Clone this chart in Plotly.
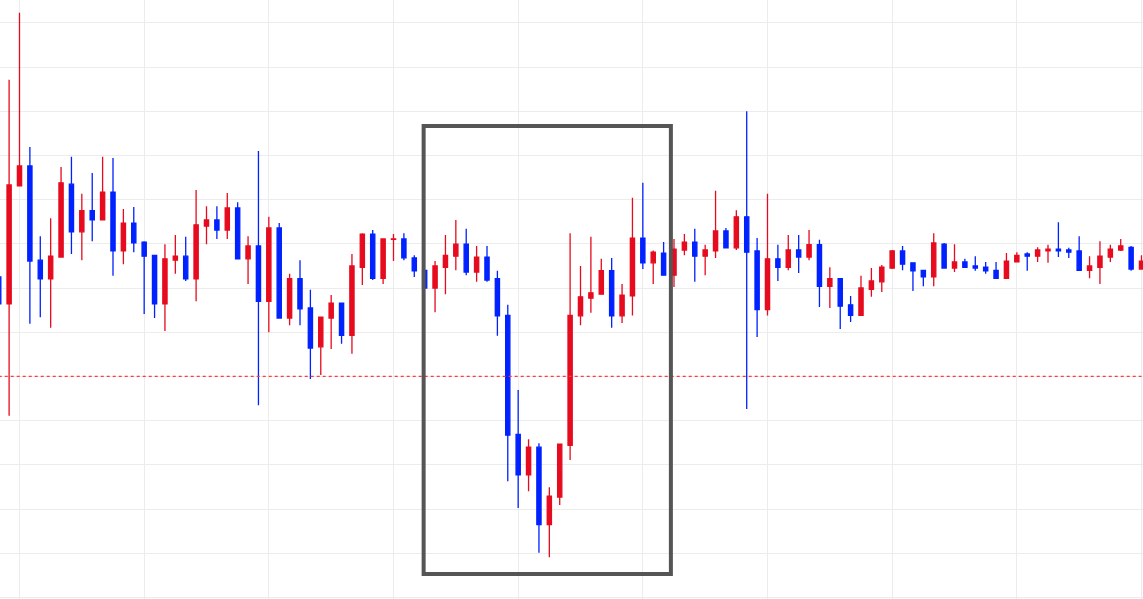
import plotly.graph_objects as go

# bar index (5-minute bars, a vertical grid line every 12 bars)
bars = list(range(-2, 109))

opens = [
    122.5, 116.4, 143.1, 147.6, 126.3, 122.1, 127.0, 143.5, 132.7, 137.5,
    135.4, 141.7, 128.4, 134.7, 130.4, 127.4, 116.4, 126.3, 127.2, 122.1,
    134.0, 135.4, 133.1, 138.1, 126.6, 129.5, 117.0, 133.6, 113.2, 122.1,
    115.5, 106.7, 113.2, 116.6, 109.3, 124.7, 132.2, 122.2, 131.0, 131.1,
    126.8, 124.0, 120.0, 124.7, 127.2, 129.9, 123.6, 127.0, 122.1, 113.8,
    86.9, 77.7, 84.0, 66.5, 72.7, 84.4, 113.7, 117.7, 118.6, 123.9,
    113.7, 118.2, 131.3, 125.7, 127.9, 122.9, 128.6, 130.4, 127.2, 128.4,
    132.9, 129.1, 136.1, 128.4, 115.1, 126.6, 124.7, 128.6, 127.0, 129.8,
    120.4, 122.1, 116.2, 113.8, 119.7, 121.4, 124.5, 128.4, 125.7, 124.0,
    122.5, 129.9, 124.5, 125.9, 125.0, 124.7, 124.0, 122.2, 125.9, 127.7,
    127.2, 128.4, 128.8, 128.6, 128.4, 124.0, 124.7, 127.0, 128.6, 129.2,
    124.3,
]
highs = [
    122.5, 167.1, 182.3, 151.9, 131.7, 135.8, 147.4, 149.7, 141.3, 146.0,
    149.7, 149.4, 137.9, 138.3, 130.6, 127.4, 129.9, 132.0, 131.6, 142.2,
    138.5, 138.5, 141.5, 139.4, 131.7, 151.0, 136.1, 134.7, 123.2, 126.3,
    119.6, 113.4, 118.4, 116.6, 127.7, 132.4, 133.1, 131.1, 132.2, 132.4,
    127.4, 124.0, 126.1, 132.0, 135.4, 133.4, 129.5, 129.5, 123.9, 116.2,
    96.9, 85.8, 84.9, 74.9, 84.7, 132.4, 125.0, 131.6, 126.6, 126.8,
    120.9, 140.4, 143.8, 128.5, 130.4, 131.1, 132.2, 133.4, 129.8, 142.0,
    133.6, 137.6, 160.0, 131.3, 141.3, 129.8, 132.0, 132.0, 133.1, 130.9,
    124.7, 122.1, 118.2, 122.8, 124.5, 125.2, 128.6, 129.5, 125.7, 124.0,
    132.4, 130.2, 129.9, 126.6, 127.2, 125.9, 125.9, 127.9, 128.1, 128.1,
    129.2, 129.8, 134.9, 129.1, 131.7, 127.2, 130.6, 129.8, 131.1, 129.5,
    127.4,
]
lows = [
    116.4, 91.1, 143.1, 111.9, 113.4, 111.0, 127.0, 127.7, 126.3, 130.6,
    135.4, 122.8, 125.4, 128.1, 114.1, 113.2, 110.3, 123.2, 121.6, 117.0,
    129.9, 131.1, 131.1, 126.6, 120.9, 93.5, 110.0, 113.2, 111.6, 111.6,
    99.4, 100.3, 106.2, 107.4, 105.1, 120.7, 121.8, 120.9, 126.1, 126.3,
    122.5, 120.0, 114.5, 118.6, 124.0, 122.9, 121.4, 121.4, 109.2, 76.3,
    70.2, 74.0, 60.1, 59.1, 70.9, 81.1, 111.6, 114.4, 118.6, 111.0,
    112.1, 113.8, 124.3, 120.9, 122.9, 120.2, 127.4, 121.4, 122.9, 126.8,
    129.1, 128.6, 92.6, 108.9, 113.8, 121.6, 124.0, 123.4, 126.3, 115.7,
    115.5, 110.7, 112.3, 113.7, 118.0, 119.1, 124.3, 124.0, 119.3, 120.4,
    120.4, 124.5, 123.6, 124.5, 123.9, 123.2, 122.1, 122.2, 125.9, 123.9,
    125.9, 125.7, 127.0, 126.8, 123.9, 122.2, 120.9, 125.9, 128.4, 123.9,
    124.3,
]
closes = [
    116.4, 143.3, 147.6, 126.1, 122.1, 127.2, 143.8, 132.7, 137.5, 135.4,
    141.7, 128.4, 134.7, 130.2, 127.2, 116.4, 126.6, 127.2, 122.1, 134.3,
    135.4, 133.1, 138.1, 126.6, 129.5, 117.0, 133.6, 113.2, 122.1, 115.3,
    106.4, 113.4, 116.6, 109.3, 125.0, 132.2, 122.2, 131.1, 131.1, 126.8,
    123.9, 120.0, 125.0, 127.4, 129.9, 123.6, 127.0, 121.8, 113.7, 86.7,
    77.7, 84.0, 66.5, 72.9, 84.7, 113.8, 118.0, 118.9, 123.9, 113.7,
    118.4, 131.3, 125.7, 128.1, 122.9, 128.8, 130.4, 127.2, 128.6, 132.9,
    129.1, 136.1, 128.1, 115.1, 126.6, 124.7, 128.6, 127.0, 129.8, 120.4,
    122.1, 115.9, 113.8, 120.0, 121.6, 124.7, 128.4, 125.4, 123.9, 122.5,
    130.2, 124.5, 125.9, 124.7, 124.5, 123.9, 122.2, 126.1, 127.4, 127.2,
    128.6, 128.8, 128.4, 128.1, 124.0, 125.0, 127.2, 128.8, 129.5, 124.3,
    126.1,
]

# reference level (dotted line) and highlighted zone
ref_level = 100.0
zone_x = [38.9, 62.7]
zone_y = [55.3, 156.65]

UP = "#e60b1e"
DOWN = "#0022ff"

fig = go.Figure()

# dotted reference level, drawn above the grid but beneath the candles
fig.add_trace(
    go.Scatter(
        x=[bars[0], bars[-1]], y=[ref_level, ref_level], mode="lines",
        line=dict(color="#ff3b3b", width=1.3, dash="dot"),
        hoverinfo="skip",
    )
)

fig.add_trace(
    go.Candlestick(
        x=bars, open=opens, high=highs, low=lows, close=closes,
        increasing=dict(line=dict(color=UP, width=1.3), fillcolor=UP),
        decreasing=dict(line=dict(color=DOWN, width=1.3), fillcolor=DOWN),
        whiskerwidth=0,
        hoverinfo="x+y",
    )
)

fig.add_shape(
    type="rect", xref="x", yref="y",
    x0=zone_x[0], x1=zone_x[1], y0=zone_y[0], y1=zone_y[1],
    line=dict(color="#555555", width=4), fillcolor="rgba(0,0,0,0)", layer="above",
)

fig.update_layout(
    width=1143, height=599, autosize=False,
    margin=dict(l=0, r=0, t=0, b=0),
    paper_bgcolor="white", plot_bgcolor="white",
    showlegend=False,
    boxgap=0.42,
    xaxis=dict(
        range=[-1.877, 108.144], rangeslider=dict(visible=False),
        tick0=0, dtick=12, showgrid=True, gridcolor="#ececec", gridwidth=1,
        showticklabels=False, zeroline=False, showline=False, ticks="",
    ),
    yaxis=dict(
        range=[49.64, 185.16], tick0=0, dtick=10,
        showgrid=True, gridcolor="#ececec", gridwidth=1,
        showticklabels=False, zeroline=False, showline=False, ticks="",
    ),
)

fig.write_html(
    "out.html",
    config={"displayModeBar": False},
    post_script="document.body.style.margin='0';",
)
